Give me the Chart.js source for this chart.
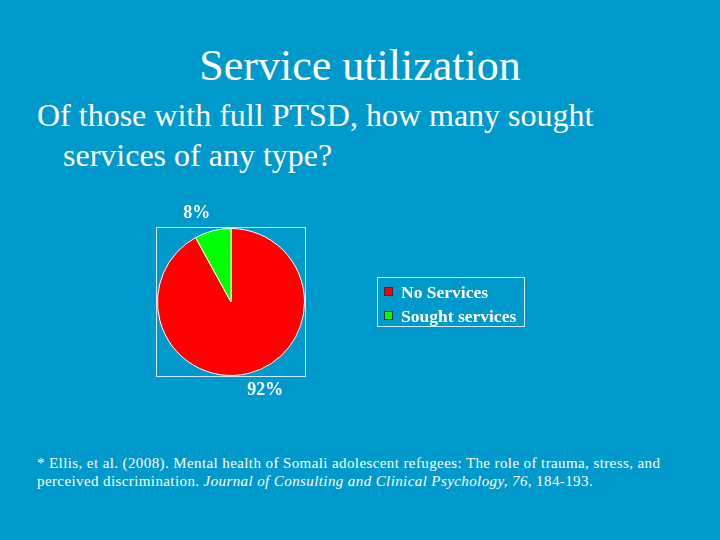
<!DOCTYPE html>
<html>
<head>
<meta charset="utf-8">
<script src="https://cdn.jsdelivr.net/npm/chart.js@4.4.0/dist/chart.umd.min.js"></script>
<style>
  html, body { margin: 0; padding: 0; }
  body {
    width: 720px; height: 540px; background: #0099cc; position: relative;
    overflow: hidden; color: #ffffff; font-family: "Liberation Serif", "Times New Roman", serif;
  }
  #title { position: absolute; left: 0; width: 720px; top: 40px; text-align: center; font-size: 44px; line-height: 52px; }
  #question { position: absolute; left: 37px; top: 95px; font-size: 32px; line-height: 40px; }
  #question .indent { padding-left: 26px; }
  #chartBox { position: absolute; left: 140px; top: 195px; width: 400px; height: 210px; }
  #note { position: absolute; left: 37px; top: 454px; font-size: 15px; line-height: 18px; letter-spacing: 0.4px; }
</style>
</head>
<body>
<div id="title">Service utilization</div>
<div id="question">Of those with full PTSD, how many sought<br><span class="indent">services of any type?</span></div>
<div id="chartBox"><canvas id="pieChart" width="400" height="210"></canvas></div>
<div id="note">* Ellis, et al. (2008). Mental health of Somali adolescent refugees: The role of trauma, stress, and<br>perceived discrimination. <i>Journal of Consulting and Clinical Psychology, 76,</i> 184-193.</div>

<script>
// Chart data
const categories = ['No Services', 'Sought services'];
const percentages = [92, 8];
const sliceColors = ['#ff0000', '#00ff00'];

// Frame around the plot area plus percent labels outside the slices
const framePlugin = {
    id: 'frameAndLabels',
    afterDraw(chart) {
        const ctx = chart.ctx;
        const area = chart.chartArea;
        ctx.save();
        ctx.strokeStyle = '#cfeaf5';
        ctx.lineWidth = 1;
        ctx.strokeRect(area.left - 0.5, area.top - 0.5, area.right - area.left + 1, area.bottom - area.top + 1);

        ctx.fillStyle = '#ffffff';
        ctx.font = 'bold 18px "Liberation Serif"';
        ctx.textAlign = 'center';
        ctx.textBaseline = 'middle';
        chart.getDatasetMeta(0).data.forEach((arc, i) => {
            const mid = (arc.startAngle + arc.endAngle) / 2;
            const r = arc.outerRadius + 18;
            ctx.fillText(percentages[i] + '%', arc.x + Math.cos(mid) * r * 1.5, arc.y + Math.sin(mid) * r);
        });
        ctx.restore();
    }
};

// Boxed legend on the right
const legendPlugin = {
    id: 'boxLegend',
    afterDraw(chart) {
        const ctx = chart.ctx;
        const x = 237, y = 82, w = 147, h = 49;
        ctx.save();
        ctx.strokeStyle = '#cfeaf5';
        ctx.lineWidth = 1;
        ctx.strokeRect(x + 0.5, y + 0.5, w, h);
        ctx.font = 'bold 17.5px "Liberation Serif"';
        ctx.textBaseline = 'middle';
        categories.forEach((label, i) => {
            const cy = y + 15 + i * 24;
            ctx.fillStyle = sliceColors[i];
            ctx.fillRect(x + 7, cy - 5, 9, 9);
            ctx.strokeStyle = '#333333';
            ctx.strokeRect(x + 7.5, cy - 4.5, 8, 8);
            ctx.fillStyle = '#ffffff';
            ctx.fillText(label, x + 24, cy + 1);
        });
        ctx.restore();
    }
};

document.addEventListener('DOMContentLoaded', function() {
    const ctx = document.getElementById('pieChart').getContext('2d');
    new Chart(ctx, {
        type: 'pie',
        data: {
            labels: categories,
            datasets: [{
                data: percentages,
                backgroundColor: sliceColors,
                borderColor: '#ffffff',
                borderWidth: 1
            }]
        },
        options: {
            responsive: false,
            animation: false,
            layout: { padding: { left: 17, top: 33, right: 235, bottom: 29 } },
            plugins: {
                legend: { display: false },
                tooltip: { enabled: false }
            }
        },
        plugins: [framePlugin, legendPlugin]
    });
});
</script>
</body>
</html>
